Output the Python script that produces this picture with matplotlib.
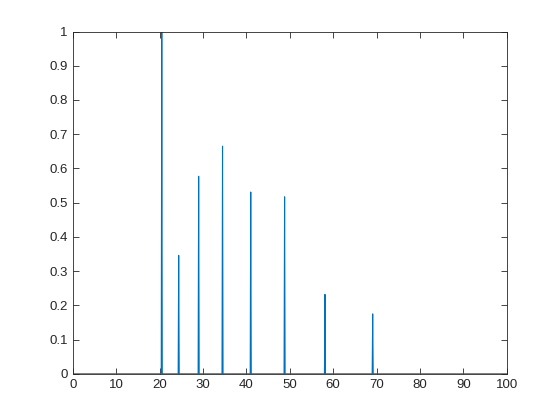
import matplotlib
matplotlib.use("Agg")
import matplotlib.pyplot as plt

peak_pos = [20.5, 24.4, 29.0, 34.5, 41.0, 48.8, 58.1, 69.1]
peak_height = [1.0, 0.346, 0.577, 0.665, 0.531, 0.517, 0.232, 0.175]
half_width = 0.12

xs = [0.0]
ys = [0.0]
for p, h in zip(peak_pos, peak_height):
    xs += [p - half_width, p, p + half_width]
    ys += [0.0, h, 0.0]
xs.append(100.0)
ys.append(0.0)

plt.rcParams['font.family'] = ['Liberation Sans', 'DejaVu Sans']
fig = plt.figure(figsize=(5.6, 4.2), dpi=100)
ax = fig.add_axes([0.13, 0.11, 0.775, 0.815])
ax.plot(xs, ys, color='#0072BD', linewidth=0.8)
ax.set_xlim(0, 100)
ax.set_ylim(0, 1)
ax.set_xticks(range(0, 101, 10))
ax.set_yticks([i / 10 for i in range(11)])
ax.set_yticklabels(['0', '0.1', '0.2', '0.3', '0.4', '0.5', '0.6', '0.7', '0.8', '0.9', '1'])
edge = '#262626'
for s in ax.spines.values():
    s.set_color(edge)
    s.set_linewidth(0.6)
ax.tick_params(direction='in', top=True, right=True, length=4, width=0.6,
               colors=edge, labelsize=9.5, labelcolor=edge)
fig.savefig('out.png')
